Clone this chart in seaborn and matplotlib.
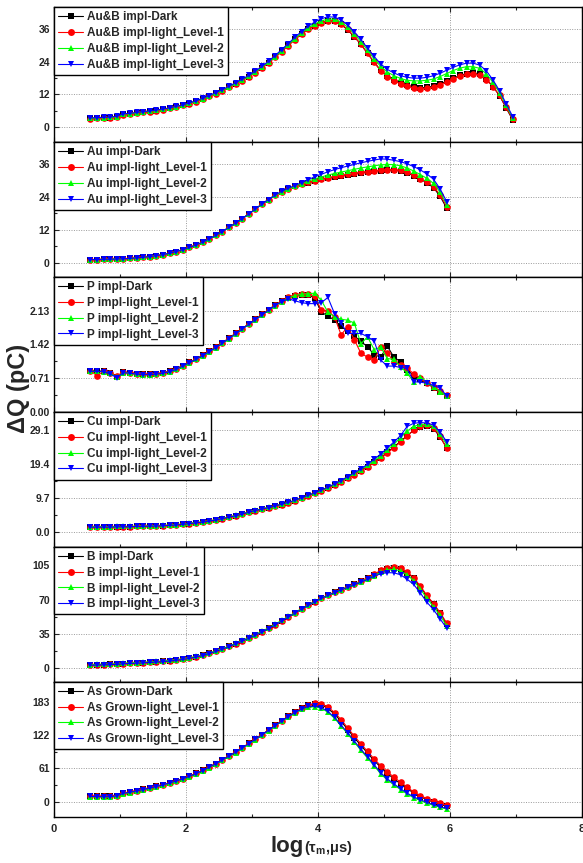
import numpy as np
import pandas as pd
import matplotlib
matplotlib.use("Agg")
import matplotlib.pyplot as plt
import seaborn as sns
from matplotlib.lines import Line2D
from matplotlib.ticker import MultipleLocator

# ---------------- data ----------------
x_long = [0.55, 0.65, 0.75, 0.85, 0.95, 1.05, 1.15, 1.25, 1.35, 1.45,
          1.55, 1.65, 1.75, 1.85, 1.95, 2.05, 2.15, 2.25, 2.35, 2.45,
          2.55, 2.65, 2.75, 2.85, 2.95, 3.05, 3.15, 3.25, 3.35, 3.45,
          3.55, 3.65, 3.75, 3.85, 3.95, 4.05, 4.15, 4.25, 4.35, 4.45,
          4.55, 4.65, 4.75, 4.85, 4.95, 5.05, 5.15, 5.25, 5.35, 5.45,
          5.55, 5.65, 5.75, 5.85, 5.95, 6.05, 6.15, 6.25, 6.35, 6.45,
          6.55, 6.65, 6.75, 6.85, 6.95]
x_short = x_long[:55]

# Au&B impl
ab_dark = [3.1, 3.2, 3.3, 3.4, 3.7, 4.6, 4.8, 5.1, 5.4, 5.7,
           6.0, 6.4, 6.8, 7.3, 7.9, 8.6, 9.4, 10.3, 11.3, 12.3,
           13.4, 14.5, 15.8, 17.1, 18.5, 20.0, 21.7, 23.6, 25.6, 27.8,
           30.0, 32.2, 34.2, 35.9, 37.2, 38.2, 38.8, 38.7, 37.6, 35.6,
           33.1, 30.3, 27.0, 23.8, 20.8, 18.8, 17.4, 16.3, 15.3, 14.7,
           14.4, 14.5, 15.0, 15.8, 16.8, 17.9, 18.9, 19.6, 19.9, 19.4,
           17.6, 14.8, 11.5, 7.0, 2.6]
ab_l1 = [3.0, 3.1, 3.2, 3.4, 3.6, 4.5, 4.8, 5.0, 5.3, 5.6,
         6.0, 6.3, 6.8, 7.3, 7.9, 8.5, 9.3, 10.2, 11.2, 12.2,
         13.3, 14.5, 15.7, 17.0, 18.4, 19.9, 21.6, 23.5, 25.5, 27.6,
         29.8, 32.0, 34.0, 35.8, 37.2, 38.3, 39.0, 38.9, 37.8, 35.8,
         33.2, 30.3, 27.0, 23.7, 20.6, 18.5, 17.0, 15.8, 14.9, 14.3,
         14.1, 14.2, 14.7, 15.5, 16.5, 17.6, 18.6, 19.3, 19.5, 19.1,
         17.4, 14.8, 11.6, 7.2, 2.9]
ab_l2 = [3.2, 3.3, 3.4, 3.5, 3.8, 4.7, 4.9, 5.2, 5.5, 5.8,
         6.1, 6.5, 6.9, 7.4, 8.0, 8.7, 9.5, 10.4, 11.4, 12.4,
         13.5, 14.7, 16.0, 17.3, 18.7, 20.2, 21.9, 23.8, 25.8, 28.0,
         30.2, 32.4, 34.5, 36.3, 37.8, 38.9, 39.6, 39.5, 38.5, 36.6,
         34.1, 31.3, 28.1, 25.0, 22.2, 20.2, 18.8, 17.8, 17.1, 16.9,
         16.9, 17.1, 17.6, 18.5, 19.6, 20.7, 21.6, 22.1, 22.1, 21.5,
         19.5, 16.4, 12.6, 8.0, 3.3]
ab_l3 = [3.3, 3.4, 3.5, 3.6, 3.9, 4.8, 5.0, 5.3, 5.6, 5.9,
         6.2, 6.6, 7.0, 7.5, 8.1, 8.8, 9.6, 10.5, 11.5, 12.6,
         13.7, 14.9, 16.2, 17.5, 18.9, 20.5, 22.2, 24.1, 26.2, 28.4,
         30.6, 32.9, 35.0, 36.9, 38.5, 39.7, 40.4, 40.3, 39.3, 37.4,
         34.9, 32.1, 28.9, 25.9, 23.1, 21.1, 19.8, 18.8, 18.2, 17.9,
         17.9, 18.2, 18.8, 19.7, 20.8, 21.9, 22.8, 23.4, 23.4, 22.7,
         20.6, 17.3, 13.3, 8.6, 3.8]

# Au impl
au_dark = [1.2, 1.2, 1.3, 1.3, 1.4, 1.5, 1.6, 1.8, 2.0, 2.3,
           2.6, 3.0, 3.5, 4.1, 4.8, 5.6, 6.5, 7.5, 8.7, 10.0,
           11.4, 12.9, 14.5, 16.1, 17.8, 19.6, 21.4, 23.1, 24.6, 25.9,
           27.0, 27.9, 28.6, 29.2, 29.8, 30.4, 30.9, 31.3, 31.7, 32.1,
           32.5, 32.8, 33.1, 33.4, 33.6, 33.8, 33.8, 33.5, 32.8, 31.7,
           30.5, 29.2, 27.4, 24.3, 19.9]
au_l1 = [1.2, 1.2, 1.3, 1.3, 1.4, 1.5, 1.6, 1.8, 2.0, 2.3,
         2.6, 3.0, 3.5, 4.1, 4.8, 5.6, 6.5, 7.5, 8.7, 10.0,
         11.4, 12.9, 14.5, 16.1, 17.8, 19.6, 21.4, 23.1, 24.6, 25.9,
         27.0, 27.9, 28.7, 29.4, 30.0, 30.6, 31.1, 31.5, 31.9, 32.3,
         32.7, 33.0, 33.3, 33.6, 33.8, 34.0, 34.0, 33.7, 33.0, 31.9,
         30.7, 29.4, 27.8, 24.8, 20.5]
au_l2 = [1.2, 1.2, 1.3, 1.3, 1.4, 1.5, 1.6, 1.8, 2.0, 2.3,
         2.6, 3.0, 3.5, 4.1, 4.8, 5.6, 6.5, 7.5, 8.7, 10.0,
         11.4, 12.9, 14.5, 16.1, 17.8, 19.6, 21.4, 23.1, 24.6, 25.9,
         27.0, 28.0, 28.9, 29.8, 30.6, 31.3, 32.0, 32.6, 33.1, 33.6,
         34.1, 34.6, 35.0, 35.4, 35.7, 35.9, 35.8, 35.4, 34.6, 33.5,
         32.2, 30.8, 29.0, 25.8, 21.2]
au_l3 = [1.2, 1.2, 1.3, 1.3, 1.4, 1.5, 1.6, 1.8, 2.0, 2.3,
         2.6, 3.0, 3.5, 4.1, 4.8, 5.6, 6.5, 7.5, 8.7, 10.0,
         11.4, 12.9, 14.5, 16.1, 17.8, 19.6, 21.4, 23.1, 24.7, 26.1,
         27.2, 28.2, 29.3, 30.3, 31.4, 32.3, 33.2, 34.0, 34.7, 35.3,
         35.9, 36.5, 37.0, 37.5, 37.9, 37.8, 37.4, 36.9, 36.1, 35.1,
         33.9, 32.4, 30.5, 27.0, 22.3]

# P impl
p_dark = [0.86, 0.86, 0.85, 0.82, 0.74, 0.83, 0.82, 0.80, 0.79, 0.79,
          0.80, 0.82, 0.85, 0.90, 0.97, 1.04, 1.11, 1.19, 1.27, 1.36,
          1.45, 1.55, 1.65, 1.75, 1.85, 1.95, 2.05, 2.15, 2.25, 2.33,
          2.40, 2.45, 2.47, 2.46, 2.40, 2.10, 2.02, 1.93, 1.80, 1.70,
          1.60, 1.48, 1.37, 1.20, 1.15, 1.38, 1.15, 1.05, 0.88, 0.76,
          0.68, 0.60, 0.50, 0.42, 0.33]
p_l1 = [0.86, 0.76, 0.85, 0.82, 0.75, 0.83, 0.82, 0.80, 0.79, 0.79,
        0.80, 0.82, 0.85, 0.90, 0.97, 1.04, 1.11, 1.19, 1.27, 1.36,
        1.45, 1.55, 1.65, 1.75, 1.85, 1.95, 2.05, 2.15, 2.25, 2.34,
        2.42, 2.47, 2.49, 2.48, 2.44, 2.14, 2.13, 2.00, 1.62, 1.79,
        1.52, 1.23, 1.15, 1.09, 1.36, 1.24, 1.05, 0.98, 0.91, 0.80,
        0.70, 0.61, 0.52, 0.43, 0.34]
p_l2 = [0.85, 0.85, 0.84, 0.81, 0.73, 0.82, 0.81, 0.79, 0.78, 0.78,
        0.79, 0.81, 0.84, 0.89, 0.96, 1.03, 1.10, 1.18, 1.26, 1.35,
        1.44, 1.54, 1.64, 1.74, 1.84, 1.94, 2.04, 2.14, 2.24, 2.32,
        2.40, 2.45, 2.48, 2.49, 2.50, 2.35, 2.10, 2.00, 1.95, 1.93,
        1.87, 1.43, 1.58, 1.31, 1.36, 1.12, 1.10, 0.95, 0.81, 0.63,
        0.74, 0.62, 0.52, 0.42, 0.33]
p_l3 = [0.85, 0.85, 0.84, 0.80, 0.71, 0.82, 0.81, 0.79, 0.78, 0.78,
        0.79, 0.81, 0.84, 0.89, 0.96, 1.03, 1.10, 1.18, 1.26, 1.35,
        1.44, 1.54, 1.64, 1.74, 1.84, 1.94, 2.04, 2.14, 2.24, 2.32,
        2.38, 2.34, 2.30, 2.28, 2.28, 2.30, 2.41, 2.07, 1.86, 1.65,
        1.65, 1.65, 1.58, 1.49, 1.09, 0.96, 0.96, 0.93, 0.91, 0.63,
        0.62, 0.60, 0.55, 0.50, 0.33]

# Cu impl
cu_dark = [1.5, 1.5, 1.5, 1.5, 1.6, 1.6, 1.6, 1.7, 1.7, 1.8,
           1.8, 1.9, 2.0, 2.1, 2.3, 2.5, 2.7, 2.9, 3.2, 3.5,
           3.9, 4.3, 4.7, 5.2, 5.7, 6.2, 6.6, 7.0, 7.4, 7.9,
           8.4, 9.0, 9.7, 10.4, 11.1, 11.8, 12.6, 13.5, 14.4, 15.4,
           16.5, 17.5, 18.6, 19.9, 21.2, 22.7, 24.2, 25.8, 27.4, 28.9,
           29.8, 30.1, 29.4, 27.0, 24.0]
cu_l1 = [1.5, 1.5, 1.5, 1.5, 1.6, 1.6, 1.6, 1.7, 1.7, 1.8,
         1.8, 1.9, 2.0, 2.1, 2.3, 2.5, 2.7, 2.9, 3.2, 3.5,
         3.9, 4.3, 4.7, 5.2, 5.7, 6.2, 6.6, 7.0, 7.4, 7.9,
         8.4, 9.0, 9.7, 10.4, 11.1, 11.8, 12.6, 13.5, 14.4, 15.4,
         16.4, 17.4, 18.5, 19.8, 21.0, 22.5, 24.0, 25.6, 27.3, 29.0,
         30.0, 30.3, 29.6, 27.2, 23.8]
cu_l2 = [1.6, 1.6, 1.6, 1.6, 1.7, 1.7, 1.7, 1.8, 1.8, 1.9,
         1.9, 2.0, 2.1, 2.2, 2.4, 2.6, 2.8, 3.0, 3.3, 3.6,
         4.0, 4.4, 4.8, 5.3, 5.8, 6.3, 6.7, 7.1, 7.5, 8.0,
         8.5, 9.1, 9.8, 10.5, 11.2, 11.9, 12.8, 13.7, 14.6, 15.6,
         16.7, 17.8, 19.0, 20.3, 21.7, 23.3, 25.0, 26.8, 28.7, 30.0,
         30.6, 30.6, 30.0, 27.8, 24.9]
cu_l3 = [1.5, 1.5, 1.5, 1.5, 1.6, 1.6, 1.6, 1.7, 1.7, 1.8,
         1.8, 1.9, 2.0, 2.1, 2.3, 2.5, 2.7, 2.9, 3.2, 3.5,
         3.9, 4.3, 4.7, 5.2, 5.7, 6.2, 6.6, 7.0, 7.5, 8.0,
         8.5, 9.1, 9.8, 10.5, 11.2, 12.0, 12.8, 13.7, 14.7, 15.8,
         16.9, 18.0, 19.3, 20.7, 22.2, 23.9, 25.6, 27.4, 30.0, 30.9,
         31.1, 31.0, 30.4, 28.4, 25.7]

# B impl
b_dark = [3.5, 3.7, 3.9, 4.1, 4.4, 5.0, 5.3, 5.6, 5.9, 6.3,
          6.7, 7.2, 7.8, 8.5, 9.4, 10.5, 11.8, 13.4, 15.3, 17.5,
          19.8, 22.4, 25.2, 28.0, 31.0, 34.0, 37.3, 40.8, 44.5, 48.5,
          52.5, 56.6, 60.6, 64.5, 68.2, 71.7, 74.8, 77.7, 80.4, 83.0,
          85.9, 88.9, 92.0, 95.3, 99.0, 101.5, 102.8, 101.6, 97.8, 91.8,
          83.3, 73.8, 65.3, 56.3, 45.4]
b_l1 = [3.5, 3.7, 3.9, 4.1, 4.4, 5.0, 5.3, 5.6, 5.9, 6.3,
        6.7, 7.2, 7.8, 8.5, 9.4, 10.5, 11.8, 13.4, 15.3, 17.5,
        19.8, 22.4, 25.2, 28.0, 31.0, 34.0, 37.3, 40.8, 44.5, 48.5,
        52.5, 56.6, 60.6, 64.5, 68.2, 71.7, 74.8, 77.7, 80.4, 83.0,
        86.2, 89.3, 92.5, 96.0, 100.0, 102.5, 103.5, 102.3, 98.5, 92.4,
        84.0, 74.5, 66.0, 57.0, 46.2]
b_l2 = [3.9, 4.1, 4.3, 4.5, 4.8, 5.4, 5.7, 6.0, 6.3, 6.7,
        7.1, 7.6, 8.2, 8.9, 9.8, 10.9, 12.2, 13.8, 15.7, 17.9,
        20.2, 22.8, 25.6, 28.5, 31.5, 34.6, 37.9, 41.4, 45.1, 49.0,
        53.0, 57.0, 60.9, 64.7, 68.3, 71.7, 74.7, 77.5, 80.2, 82.8,
        85.6, 88.4, 91.3, 94.6, 98.0, 100.3, 101.0, 99.5, 95.5, 89.5,
        81.0, 71.5, 63.0, 54.0, 43.5]
b_l3 = [3.3, 3.5, 3.7, 3.9, 4.2, 4.8, 5.1, 5.4, 5.7, 6.1,
        6.5, 7.0, 7.6, 8.3, 9.2, 10.3, 11.6, 13.2, 15.1, 17.3,
        19.6, 22.2, 25.0, 27.8, 30.8, 33.8, 37.1, 40.6, 44.3, 48.3,
        52.3, 56.4, 60.4, 64.2, 67.9, 71.4, 74.5, 77.4, 80.0, 82.6,
        85.3, 88.0, 90.8, 93.9, 96.6, 97.6, 97.5, 95.5, 91.0, 85.6,
        77.0, 67.5, 60.0, 50.5, 41.0]

# As Grown
ag_dark = [10.5, 10.2, 10.0, 10.0, 11.5, 16.0, 18.0, 20.5, 23.0, 25.5,
           28.5, 31.5, 35.0, 38.5, 42.5, 47.0, 52.0, 57.5, 63.5, 70.0,
           77.0, 84.0, 91.0, 98.5, 106.5, 114.5, 122.5, 131.0, 139.5, 148.0,
           156.0, 164.0, 170.5, 176.0, 178.5, 177.0, 170.5, 160.0, 147.0, 132.0,
           117.0, 103.0, 89.0, 75.5, 63.0, 52.0, 42.0, 33.0, 24.5, 16.0,
           9.5, 4.0, -0.5, -4.5, -8.0]
ag_l1 = [10.5, 10.2, 10.0, 10.0, 11.5, 16.0, 18.0, 20.5, 23.0, 25.5,
         28.5, 31.5, 35.0, 38.5, 42.5, 47.0, 52.0, 57.5, 63.5, 70.0,
         77.0, 84.0, 91.0, 98.5, 106.5, 114.5, 122.5, 131.0, 139.5, 148.0,
         156.0, 164.0, 171.0, 176.5, 180.0, 179.0, 173.0, 163.0, 150.0, 135.0,
         120.0, 106.0, 92.0, 78.5, 66.0, 55.0, 45.0, 36.0, 27.0, 18.0,
         11.5, 6.0, 1.5, -2.5, -6.0]
ag_l2 = [9.5, 9.2, 9.0, 9.0, 10.5, 15.0, 17.0, 19.5, 22.0, 24.5,
         27.5, 30.5, 34.0, 37.5, 41.5, 46.0, 51.0, 56.5, 62.5, 69.0,
         76.0, 83.0, 90.0, 97.5, 105.5, 113.5, 121.5, 130.0, 138.5, 147.0,
         155.0, 162.5, 168.5, 172.5, 173.5, 171.0, 163.5, 152.5, 138.5, 124.0,
         109.0, 94.0, 80.0, 66.0, 51.0, 40.0, 31.0, 22.5, 14.5, 7.5,
         2.5, -2.5, -6.5, -10.0, -13.0]
ag_l3 = [10.0, 9.7, 9.5, 9.5, 11.0, 15.5, 17.5, 20.0, 22.5, 25.0,
         28.0, 31.0, 34.5, 38.0, 42.0, 46.5, 51.5, 57.0, 63.0, 69.5,
         76.5, 83.5, 90.5, 98.0, 106.0, 114.0, 122.0, 130.5, 139.0, 147.5,
         155.5, 163.0, 169.0, 174.0, 174.5, 172.0, 165.0, 154.0, 140.0, 126.0,
         111.0, 96.0, 82.0, 68.0, 53.0, 42.0, 33.0, 24.0, 16.0, 9.0,
         4.0, -1.0, -5.0, -9.0, -12.0]

prefixes = ["Au&B impl", "Au impl", "P impl", "Cu impl", "B impl", "As Grown"]
suffixes = ["-Dark", "-light_Level-1", "-light_Level-2", "-light_Level-3"]
xtick_vals = [0, 2, 4, 6, 8]

panels = [
    (x_long, [ab_dark, ab_l1, ab_l2, ab_l3], (-5.6, 43.9), [0, 12, 24, 36], "{:.0f}"),
    (x_short, [au_dark, au_l1, au_l2, au_l3], (-5.2, 44.0), [0, 12, 24, 36], "{:.0f}"),
    (x_short, [p_dark, p_l1, p_l2, p_l3], (-0.01, 2.84), [0.00, 0.71, 1.42, 2.13], "{:.2f}"),
    (x_short, [cu_dark, cu_l1, cu_l2, cu_l3], (-4.1, 34.1), [0.0, 9.7, 19.4, 29.1], "{:.1f}"),
    (x_short, [b_dark, b_l1, b_l2, b_l3], (-13.6, 123.9), [0, 35, 70, 105], "{:.0f}"),
    (x_short, [ag_dark, ag_l1, ag_l2, ag_l3], (-27, 219), [0, 61, 122, 183], "{:.0f}"),
]

colors = ["#000000", "#FF0000", "#00FF00", "#0000FF"]
markers = ["s", "o", "^", "v"]

# ---------------- plot ----------------
sns.set_style("ticks")
plt.rcParams["font.family"] = ["Liberation Sans", "DejaVu Sans"]
plt.rcParams["font.weight"] = "bold"
plt.rcParams["axes.labelweight"] = "bold"

fig = plt.figure(figsize=(5.83, 8.63), dpi=100)
axes = fig.subplots(6, 1, sharex=True)
fig.subplots_adjust(left=54 / 583, right=582 / 583, top=1 - 7.3 / 863,
                    bottom=1 - 816.7 / 863, hspace=0)

for ax, prefix, (xs, series, ylim, yticks, fmt) in zip(axes, prefixes, panels):
    labels = [prefix + s for s in suffixes]
    df = pd.DataFrame({
        "x": np.tile(xs, 4),
        "y": np.concatenate([np.asarray(s, float) for s in series]),
        "series": np.repeat(labels, len(xs)),
    })
    sns.lineplot(data=df, x="x", y="y", hue="series", style="series",
                 hue_order=labels, style_order=labels, palette=colors,
                 markers=markers, dashes=False, markersize=4.8,
                 markeredgewidth=0, linewidth=0.8, legend=False, ax=ax,
                 sort=False, estimator=None)
    ax.set_xlim(0, 8)
    ax.set_ylim(*ylim)
    ax.set_yticks(yticks)
    ax.set_yticklabels([fmt.format(v) for v in yticks])
    ax.yaxis.set_minor_locator(MultipleLocator((yticks[1] - yticks[0]) / 2))
    ax.set_xlabel("")
    ax.set_ylabel("")
    ax.xaxis.set_major_locator(MultipleLocator(2))
    ax.xaxis.set_minor_locator(MultipleLocator(1))
    ax.tick_params(which="both", direction="in", top=True, right=False,
                   width=0.8, labelsize=7.5, pad=3)
    ax.tick_params(which="major", length=3.5)
    ax.tick_params(which="minor", length=2.5)
    ax.set_axisbelow(True)
    ax.grid(True, which="major", linestyle=(0, (1, 1.5)), color="#9a9a9a",
            linewidth=0.7)
    for sp in ax.spines.values():
        sp.set_visible(True)
        sp.set_linewidth(1.0)
        sp.set_color("black")
    handles = [Line2D([0], [0], color=c, lw=0.8, marker=m, ms=5, mew=0)
               for c, m in zip(colors, markers)]
    leg = ax.legend(handles, labels, loc="upper left", bbox_to_anchor=(0, 1),
                    borderaxespad=0, fancybox=False, edgecolor="black",
                    framealpha=1, fontsize=8.5, handlelength=2.1,
                    handletextpad=0.35, labelspacing=0.32, borderpad=0.35)
    leg.get_frame().set_linewidth(1.0)

axes[-1].set_xticks(xtick_vals)
axes[-1].set_xticklabels([str(v) for v in xtick_vals])
axes[-1].tick_params(axis="x", labelsize=8, pad=5)

fig.text(19 / 583, 1 - 388 / 863, "ΔQ (pC)", rotation=90, fontsize=17,
         fontweight="bold", ha="center", va="center")
fig.text(304 / 583, 1 - 852 / 863, "log", ha="right", va="baseline",
         fontsize=16, fontweight="bold")
fig.text(304 / 583, 1 - 852 / 863, r"(τ$_\mathregular{m}$,μs)", ha="left",
         va="baseline", fontsize=10.5, fontweight="bold")

fig.savefig("out.png", dpi=100)
